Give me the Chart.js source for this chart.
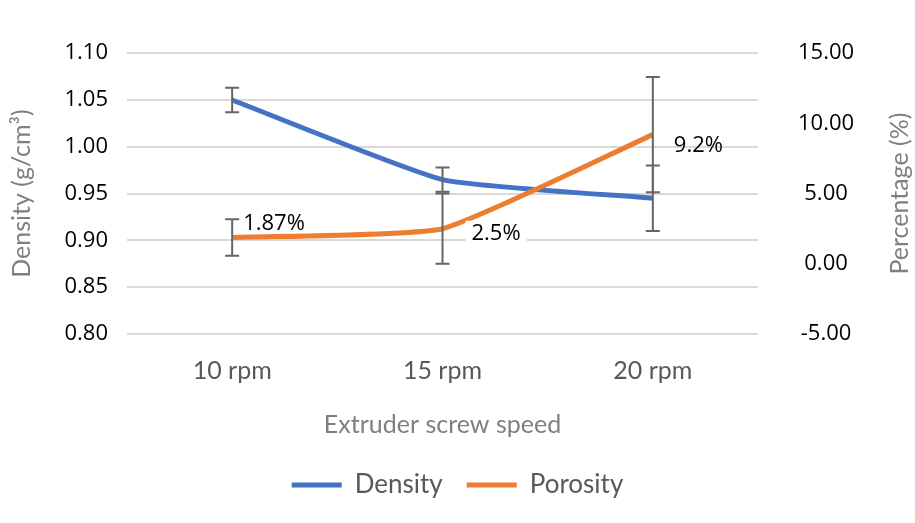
<!DOCTYPE html>
<html>
<head>
<meta charset="utf-8">
<script src="https://cdn.jsdelivr.net/npm/chart.js@4/dist/chart.umd.min.js"></script>
<style>
  html, body { margin: 0; padding: 0; background: #fff; }
  #wrap { width: 915px; height: 523px; }
</style>
</head>
<body>
<div id="wrap"><canvas id="chart"></canvas></div>
<script>
// values
const speeds = ["10 rpm", "15 rpm", "20 rpm"];
const density = [1.05, 0.965, 0.945];
const densityErr = [0.013, 0.013, 0.035];
const porosity = [1.87, 2.5, 9.2];
const porosityErr = [1.3, 2.5, 4.1];
const porosityLabels = ["1.87%", "2.5%", "9.2%"];

const blue = "#4472C4";
const orange = "#ED7D31";
const tickFont = { family: "Open Sans", size: 22 };
const greyFont = { family: "Lato", size: 25 };

// data labels on porosity, drawn before the error bars
const dataLabels = {
    id: "dataLabels",
    afterDatasetsDraw(chart) {
        const ctx = chart.ctx;
        ctx.save();
        const idx = chart.data.datasets.findIndex(d => d.label === "Porosity");
        const meta = chart.getDatasetMeta(idx);
        const offs = [[11, -14, false], [29, 5, true], [21, 11, false]];
        ctx.font = tickFont.size + "px " + tickFont.family;
        ctx.textBaseline = "middle";
        ctx.textAlign = "left";
        meta.data.forEach((pt, j) => {
            const x = pt.x + offs[j][0], y = pt.y + offs[j][1];
            if (offs[j][2]) {
                const w = ctx.measureText(porosityLabels[j]).width;
                ctx.fillStyle = "#fff";
                ctx.fillRect(x - 6, y - 13, w + 12, 28);
            }
            ctx.fillStyle = "#000";
            ctx.fillText(porosityLabels[j], x, y);
        });
        ctx.restore();
    }
};

// excel style error bars, drawn over the lines
const errorBars = {
    id: "errorBars",
    afterDatasetsDraw(chart) {
        const ctx = chart.ctx;
        ctx.save();
        ctx.strokeStyle = "#666666";
        ctx.lineWidth = 2;
        chart.data.datasets.forEach((ds, i) => {
            const meta = chart.getDatasetMeta(i);
            const scale = chart.scales[ds.yAxisID];
            meta.data.forEach((pt, j) => {
                const top = scale.getPixelForValue(ds.data[j] + ds.errors[j]);
                const bot = scale.getPixelForValue(ds.data[j] - ds.errors[j]);
                ctx.beginPath();
                ctx.moveTo(pt.x, top); ctx.lineTo(pt.x, bot);
                ctx.moveTo(pt.x - 7, top); ctx.lineTo(pt.x + 7, top);
                ctx.moveTo(pt.x - 7, bot); ctx.lineTo(pt.x + 7, bot);
                ctx.stroke();
            });
        });
        ctx.restore();
    }
};

// right axis title reads bottom to top, so it is drawn here
const rightTitle = {
    id: "rightTitle",
    afterDraw(chart) {
        const ctx = chart.ctx;
        const area = chart.chartArea;
        ctx.save();
        ctx.translate(900, (area.top + area.bottom) / 2);
        ctx.rotate(-Math.PI / 2);
        ctx.textAlign = "center";
        ctx.textBaseline = "middle";
        ctx.font = greyFont.size + "px " + greyFont.family;
        ctx.fillStyle = "#7f7f7f";
        ctx.fillText("Percentage (%)", 0, 0);
        ctx.restore();
    }
};

const ctx = document.getElementById("chart");
const chart = new Chart(ctx, {
    type: "line",
    data: {
        labels: speeds,
        datasets: [
            {
                label: "Density",
                data: density,
                errors: densityErr,
                yAxisID: "y",
                borderColor: blue,
                backgroundColor: blue,
                borderWidth: 5,
                pointRadius: 0,
                tension: 0.15,
                order: 1
            },
            {
                label: "Porosity",
                data: porosity,
                errors: porosityErr,
                yAxisID: "y1",
                borderColor: orange,
                backgroundColor: orange,
                borderWidth: 5,
                pointRadius: 0,
                tension: 0.15,
                order: 0
            }
        ]
    },
    options: {
        responsive: true,
        maintainAspectRatio: false,
        animation: false,
        layout: { padding: { top: 48, right: 0, bottom: 15, left: 0 } },
        scales: {
            x: {
                offset: true,
                grid: { display: false },
                border: { display: false },
                ticks: { color: "#595959", font: greyFont, padding: 14 },
                title: {
                    display: true,
                    text: "Extruder screw speed",
                    color: "#7f7f7f",
                    font: greyFont,
                    padding: { top: 0, bottom: 8 }
                },
                afterFit(scale) { scale.height = 114; }
            },
            y: {
                position: "left",
                min: 0.8,
                max: 1.1,
                ticks: {
                    stepSize: 0.05,
                    color: "#000",
                    font: tickFont,
                    padding: 19,
                    callback: v => v.toFixed(2)
                },
                grid: { color: "#d9d9d9", lineWidth: 2, drawTicks: false },
                border: { display: false },
                title: {
                    display: true,
                    text: "Density (g/cm³)",
                    color: "#7f7f7f",
                    font: greyFont,
                    padding: { top: 7, bottom: 0 }
                },
                afterFit(scale) { scale.width = 127; }
            },
            y1: {
                position: "right",
                min: -5,
                max: 15,
                ticks: {
                    stepSize: 5,
                    color: "#000",
                    font: tickFont,
                    padding: 40,
                    crossAlign: "center",
                    callback: v => v.toFixed(2)
                },
                grid: { display: false, drawTicks: false },
                border: { display: false },
                afterFit(scale) { scale.width = 157; }
            }
        },
        plugins: {
            tooltip: { enabled: false },
            legend: {
                position: "bottom",
                reverse: true,
                labels: {
                    color: "#595959",
                    font: { family: "Lato", size: 26 },
                    boxWidth: 50,
                    boxHeight: 5,
                    padding: 24,
                    generateLabels(chart) {
                        const items = Chart.defaults.plugins.legend.labels.generateLabels(chart);
                        items.forEach(it => { it.lineWidth = 0; it.fillStyle = it.strokeStyle; });
                        return items;
                    }
                }
            }
        }
    },
    plugins: [dataLabels, errorBars, rightTitle]
});
</script>
</body>
</html>
